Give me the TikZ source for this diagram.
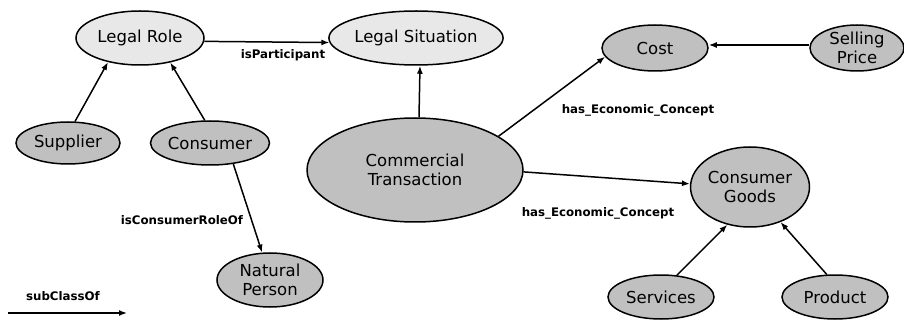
\documentclass[tikz,border=0pt]{standalone}
\usepackage{fontspec}
\setmainfont{DejaVu Sans}
\usetikzlibrary{shapes.geometric,arrows.meta}
\definecolor{lightfill}{HTML}{E8E8E8}
\definecolor{darkfill}{HTML}{C0C0C0}
\begin{document}
\begin{tikzpicture}[x=1pt,y=-1pt,
  ell/.style={ellipse,draw=black,line width=1.5pt,inner sep=0pt,align=center,
    font=\fontsize{16.5}{19}\selectfont},
  light/.style={ell,fill=lightfill},
  dark/.style={ell,fill=darkfill},
  arr/.style={line width=1.5pt,-{Latex[length=8pt,width=6pt]}},
  lbl/.style={font=\fontsize{11.8}{14}\selectfont\bfseries,inner sep=0pt}]
\useasboundingbox (0,0) rectangle (904,320);
\node[light,minimum width=128pt,minimum height=54pt] (lr) at (140,38) {Legal Role};
\node[light,minimum width=138pt,minimum height=54pt] (ls) at (416,38) {Legal Situation};
\node[dark,minimum width=104pt,minimum height=42pt] (sup) at (68,143) {Supplier};
\node[dark,minimum width=106pt,minimum height=44pt] (con) at (210,143) {Consumer};
\node[dark,minimum width=106pt,minimum height=54pt] (np) at (270,280) {Natural\\Person};
\node[dark,minimum width=216pt,minimum height=104pt] (ct) at (415,170) {Commercial\\Transaction};
\node[dark,minimum width=106pt,minimum height=46pt] (cost) at (655,48) {Cost};
\node[dark,minimum width=94pt,minimum height=46pt] (sp) at (857,48) {Selling\\Price};
\node[dark,minimum width=112pt,minimum height=80pt] (cg) at (750,187) {Consumer\\Goods};
\node[dark,minimum width=106pt,minimum height=44pt] (srv) at (661,297) {Services};
\node[dark,minimum width=106pt,minimum height=44pt] (prd) at (835,297) {Product};

\draw[arr] (sup.72) -- (lr.217);
\draw[arr] (con.103) -- (lr.321);
\draw[arr] (lr.-3) -- (ls.183);
\draw[arr] ([xshift=4pt]ct.north) -- ([xshift=4pt]ls.south);
\draw[arr] (con.-42) -- (np.106);
\draw[arr] (ct.22) -- (cost.190);
\draw[arr] (ct.-1) -- (cg.177);
\draw[arr] ([yshift=3pt]sp.west) -- ([yshift=3pt]cost.east);
\draw[arr] (srv.54) -- (cg.239);
\draw[arr] (prd.110) -- (cg.311);

\node[lbl] (l1) at (283,55) {isParticipant};
\node[lbl] (l2) at (182,220) {isConsumerRoleOf};
\node[lbl] (l3) at (638,110) {has\_Economic\_Concept};
\node[lbl] (l4) at (598,213) {has\_Economic\_Concept};
\node[lbl] (l5) at (63,296) {subClassOf};
\coordinate (a1) at (8,313);
\coordinate (a2) at (127,313);
\draw[arr] (a1) -- (a2);
\end{tikzpicture}
\end{document}
